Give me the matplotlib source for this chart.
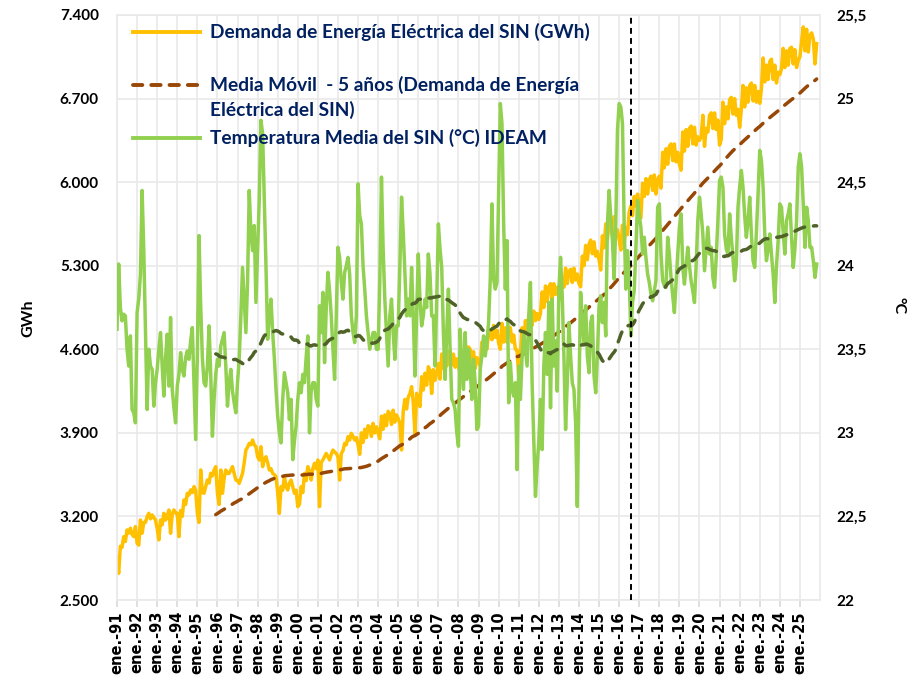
import numpy as np
import pandas as pd
import matplotlib
matplotlib.use("Agg")
import matplotlib.pyplot as plt
from matplotlib.lines import Line2D

# ---------------- data ----------------
inicio = "1991-01"

demanda = [
    2860, 2724, 2950, 2940, 3030, 2990, 3087, 3060, 3101, 3050, 3031, 3115,  # 1991
    2975, 2960, 3170, 3059, 3150, 3150, 3198, 3226, 3180, 3212, 3190, 3170,  # 1992
    3100, 3003, 3170, 3130, 3226, 3170, 3200, 3254, 3059, 3220, 3254, 3230,  # 1993
    3226, 3031, 3250, 3200, 3338, 3300, 3394, 3380, 3422, 3400, 3450, 3420,  # 1994
    3226, 3150, 3589, 3400, 3394, 3450, 3505, 3480, 3561, 3540, 3589, 3617,  # 1995
    3394, 3300, 3589, 3394, 3520, 3589, 3560, 3561, 3590, 3617, 3560, 3505,  # 1996
    3500, 3477, 3520, 3561, 3650, 3756, 3780, 3812, 3800, 3840, 3800, 3784,  # 1997
    3700, 3673, 3784, 3617, 3680, 3700, 3650, 3589, 3600, 3561, 3550, 3533,  # 1998
    3400, 3226, 3450, 3420, 3533, 3450, 3422, 3480, 3505, 3450, 3394, 3420,  # 1999
    3282, 3300, 3450, 3400, 3561, 3500, 3617, 3580, 3505, 3600, 3645, 3600,  # 2000
    3673, 3282, 3650, 3673, 3700, 3728, 3700, 3673, 3720, 3756, 3740, 3728,  # 2001
    3700, 3505, 3728, 3750, 3812, 3800, 3868, 3840, 3896, 3870, 3840, 3860,  # 2002
    3800, 3720, 3900, 3820, 3930, 3860, 3960, 3950, 3870, 3980, 3900, 3950,  # 2003
    3900, 3850, 4040, 3930, 4050, 3960, 4080, 4060, 3970, 4090, 3990, 4050,  # 2004
    4020, 3980, 3757, 4080, 4180, 4100, 4200, 4230, 4287, 4150, 3896, 4231,  # 2005
    4180, 4120, 4370, 4259, 4400, 4300, 4454, 4420, 4230, 4430, 4340, 4400,  # 2006
    4480, 4350, 4560, 4440, 4570, 4460, 4580, 4590, 4470, 4560, 4450, 4520,  # 2007
    4450, 4400, 4560, 4420, 4590, 4470, 4620, 4600, 4480, 4580, 4440, 4530,  # 2008
    4500, 4460, 4660, 4560, 4700, 4600, 4740, 4760, 4680, 4800, 4700, 4760,  # 2009
    4650, 4600, 4817, 4660, 4780, 4660, 4790, 4780, 4660, 4720, 4600, 4594,  # 2010
    4371, 4560, 4780, 4650, 4840, 4760, 4880, 4900, 4800, 4920, 4840, 4900,  # 2011
    4850, 4900, 5080, 4950, 5130, 5000, 5120, 5150, 5020, 5150, 5060, 5120,  # 2012
    5050, 5020, 5200, 5120, 5280, 5150, 5250, 5270, 5160, 5280, 5180, 5230,  # 2013
    5150, 5124, 5380, 5300, 5470, 5350, 5480, 5515, 5400, 5500, 5380, 5420,  # 2014
    5350, 5264, 5550, 5450, 5650, 5520, 5660, 5683, 5560, 5711, 5580, 5600,  # 2015
    5520, 5431, 5640, 5487, 5620, 5560, 5750, 5800, 5720, 5880, 5800, 5900,  # 2016
    5800, 5700, 5990, 5880, 6030, 5900, 6020, 6050, 5930, 6060, 5900, 6020,  # 2017
    6050, 5950, 6250, 6120, 6280, 6150, 6300, 6320, 6180, 6320, 6170, 6250,  # 2018
    6150, 6100, 6420, 6260, 6440, 6300, 6450, 6470, 6320, 6460, 6310, 6380,  # 2019
    6350, 6380, 6560, 6300, 6450, 6420, 6560, 6580, 6450, 6580, 6440, 6520,  # 2020
    6310, 6360, 6670, 6490, 6630, 6530, 6690, 6710, 6570, 6700, 6560, 6610,  # 2021
    6460, 6610, 6810, 6630, 6790, 6670, 6810, 6830, 6680, 6810, 6670, 6760,  # 2022
    6660, 6780, 7040, 6840, 6980, 6860, 7010, 7030, 6860, 6980, 6830, 6920,  # 2023
    6900, 6950, 7120, 6960, 7100, 6980, 7120, 7130, 6990, 7110, 6960, 7020,  # 2024
    7050, 7180, 7300, 7100, 7280, 7090, 7230, 7250, 7200, 6990, 7160,        # 2025
]

temperatura = [
    23.62, 24.01, 23.75, 23.67, 23.71, 23.70, 23.50, 23.40, 23.58, 23.14, 23.12, 23.06,  # 1991
    23.72, 23.80, 23.95, 24.45, 24.09, 23.60, 23.14, 23.50, 23.40, 23.38, 23.16, 23.30,  # 1992
    23.38, 23.50, 23.60, 23.40, 23.22, 23.45, 23.59, 23.28, 23.69, 23.26, 23.15, 23.06,  # 1993
    23.28, 23.35, 23.48, 23.38, 23.34, 23.45, 23.49, 23.44, 23.55, 23.63, 23.30, 22.96,  # 1994
    23.46, 24.18, 23.76, 23.45, 23.30, 23.28, 23.40, 23.64, 23.35, 22.98, 23.20, 23.35,  # 1995
    23.44, 23.40, 23.52, 23.56, 23.60, 23.40, 23.16, 23.30, 23.38, 23.25, 23.18, 23.12,  # 1996
    23.30, 23.44, 23.70, 23.99, 23.80, 23.60, 23.90, 24.45, 24.20, 24.09, 24.24, 23.78,  # 1997
    24.10, 24.40, 24.87, 24.79, 24.40, 24.00, 23.56, 23.70, 23.80, 23.60, 23.45, 23.26,  # 1998
    23.10, 23.00, 22.94, 23.20, 23.36, 23.30, 23.24, 23.08, 23.20, 22.84, 22.95, 23.04,  # 1999
    23.20, 23.30, 23.24, 23.35, 23.30, 23.45, 23.58, 23.00, 23.25, 23.30, 23.30, 23.20,  # 2000
    23.16, 23.76, 23.60, 23.84, 23.42, 23.74, 23.96, 23.85, 23.70, 23.50, 23.32, 23.70,  # 2001
    24.11, 24.05, 23.90, 23.80, 23.96, 24.00, 24.05, 23.95, 23.70, 23.60, 23.54, 23.70,  # 2002
    24.49, 24.30, 24.25, 24.00, 23.86, 23.70, 23.60, 23.50, 23.55, 23.60, 23.60, 23.50,  # 2003
    23.50, 23.90, 24.53, 24.10, 23.80, 23.60, 23.40, 23.70, 23.80, 23.60, 23.44, 23.64,  # 2004
    23.64, 24.00, 24.41, 24.20, 23.96, 23.70, 23.80, 23.70, 23.99, 23.70, 23.34, 23.70,  # 2005
    24.07, 23.80, 23.64, 23.70, 23.80, 23.75, 24.07, 23.95, 23.70, 23.70, 23.40, 23.80,  # 2006
    24.25, 24.10, 23.99, 23.60, 23.32, 23.60, 23.86, 23.50, 23.20, 23.18, 23.14, 23.00,  # 2007
    22.92, 23.62, 23.40, 23.26, 23.60, 23.32, 23.50, 23.38, 23.20, 23.44, 23.30, 23.02,  # 2008
    23.04, 23.38, 23.46, 23.58, 23.46, 23.54, 23.66, 23.92, 24.37, 23.92, 23.86, 23.90,  # 2009
    24.45, 24.97, 24.85, 24.25, 23.86, 24.15, 23.18, 23.42, 23.26, 23.22, 23.30, 22.78,  # 2010
    23.40, 23.20, 23.45, 23.60, 23.50, 23.40, 23.70, 23.90, 23.30, 22.95, 22.62, 22.80,  # 2011
    22.95, 23.20, 22.90, 23.40, 23.60, 23.35, 23.78, 23.15, 23.80, 23.40, 23.55, 23.25,  # 2012
    23.86, 24.05, 23.82, 23.46, 23.02, 23.30, 23.66, 23.46, 23.30, 23.26, 23.06, 22.56,  # 2013
    23.26, 23.84, 23.66, 23.54, 23.76, 23.46, 23.36, 23.66, 23.70, 23.34, 23.24, 23.46,  # 2014
    23.76, 23.82, 23.66, 23.78, 23.58, 24.25, 24.45, 24.29, 24.15, 23.92, 24.25, 24.81,  # 2015
    24.97, 24.95, 24.85, 24.25, 23.86, 24.09, 23.94, 23.58, 23.78, 23.85, 24.10, 24.39,  # 2016
    24.30, 24.23, 24.07, 24.17, 24.05, 23.95, 23.90, 23.83, 23.79, 23.85, 23.91, 24.35,  # 2017
    24.37, 24.07, 23.91, 23.88, 23.87, 24.17, 24.07, 23.93, 23.82, 23.72, 23.90, 24.07,  # 2018
    24.23, 24.31, 23.99, 23.89, 24.00, 24.11, 24.00, 23.91, 23.85, 23.78, 24.00, 24.27,  # 2019
    24.41, 24.31, 24.19, 23.97, 24.10, 24.23, 24.07, 24.11, 23.93, 23.87, 24.05, 24.27,  # 2020
    24.51, 24.53, 24.47, 24.19, 24.10, 24.07, 24.31, 24.17, 24.05, 23.91, 24.01, 24.35,  # 2021
    24.47, 24.57, 24.47, 24.30, 24.17, 24.27, 24.41, 24.19, 24.03, 23.99, 24.20, 24.43,  # 2022
    24.69, 24.63, 24.47, 24.19, 24.03, 24.10, 24.19, 24.07, 23.95, 23.78, 24.00, 24.15,  # 2023
    24.37, 24.35, 24.20, 24.07, 24.27, 24.31, 24.37, 24.17, 23.99, 24.10, 24.27, 24.59,  # 2024
    24.67, 24.59, 24.37, 24.11, 24.35, 24.27, 24.11, 24.11, 24.03, 23.93, 24.01,         # 2025
]

ventana = 60            # media movil 5 anos (meses)
corte = "2016-08"       # linea vertical punteada

etiquetas = [
    "Demanda de Energía Eléctrica del SIN (GWh)",
    "Media Móvil  - 5 años (Demanda de Energía\nEléctrica del SIN)",
    "Temperatura Media del SIN (°C) IDEAM",
]
eje_izq = "GWh"
eje_der = "°C"
ticks_dem = [2500, 3200, 3900, 4600, 5300, 6000, 6700, 7400]
ticks_tmp = [22, 22.5, 23, 23.5, 24, 24.5, 25, 25.5]

# ---------------- derived ----------------
n = len(demanda)
fechas = pd.period_range(inicio, periods=n, freq="M")
x = np.arange(n)
dem_ma = pd.Series(demanda).rolling(ventana).mean()
tmp_ma = pd.Series(temperatura).rolling(ventana).mean()
x_corte = list(fechas.strftime("%Y-%m")).index(corte)

C_DEM = "#FFC000"
C_DEM_MA = "#974706"
C_TMP = "#92D050"
C_TMP_MA = "#4F6228"
C_GRID = "#E9E9E9"
C_LEG = "#002060"

plt.rcParams["font.family"] = ["Lato", "DejaVu Sans"]

W, H = 916, 683
L, R, T, B = 117, 820, 15, 600
fig = plt.figure(figsize=(W / 100, H / 100), dpi=100)
ax = fig.add_axes([L / W, 1 - B / H, (R - L) / W, (B - T) / H])
ax2 = ax.twinx()

ax.plot(x, demanda, color=C_DEM, lw=2.5, zorder=2, solid_joinstyle="round")
ax.plot(x, dem_ma, color=C_DEM_MA, lw=2.5, dashes=(3.0, 2.6),
        dash_capstyle="round", zorder=3)
ax2.plot(x, temperatura, color=C_TMP, lw=2.5, zorder=2, solid_joinstyle="round")
ax2.plot(x, tmp_ma, color=C_TMP_MA, lw=2.5, dashes=(3.0, 2.6),
         dash_capstyle="round", zorder=3)
ax2.axvline(x_corte, color="black", lw=1.4, dashes=(3.0, 2.2), zorder=6)

ax.set_xlim(0, 420)
ax.set_ylim(ticks_dem[0], ticks_dem[-1])
ax2.set_ylim(ticks_tmp[0], ticks_tmp[-1])

ax.set_yticks(ticks_dem)
ax.set_yticklabels([f"{v:,.0f}".replace(",", ".") for v in ticks_dem],
                   fontsize=11, fontweight="bold")
ax2.set_yticks(ticks_tmp)
ax2.set_yticklabels([(f"{v:g}").replace(".", ",") for v in ticks_tmp],
                    fontsize=11, fontweight="bold")

pos = [i for i, p in enumerate(fechas) if p.month == 1]
ax.set_xticks(pos)
ax.set_xticklabels([f"ene.-{p.year % 100:02d}" for p in fechas if p.month == 1],
                   rotation=90, fontsize=10.5, fontweight="bold",
                   family="DejaVu Sans")

ax.grid(True, color=C_GRID, lw=1.2)
ax.set_axisbelow(True)
for s in ax.spines.values():
    s.set_color(C_GRID)
    s.set_linewidth(1.2)
for s in ax2.spines.values():
    s.set_visible(False)

ax.tick_params(axis="x", length=5, width=1.2, color="#D9D9D9", pad=3)
ax.tick_params(axis="y", length=0, pad=13)
ax2.tick_params(axis="y", length=0, pad=12)

ax.set_ylabel(eje_izq, fontsize=11.5, fontweight="bold")
ax.yaxis.set_label_coords(-0.116, 0.482)
ax2.set_ylabel(eje_der, fontsize=11.5, fontweight="bold", rotation=270,
               va="center", ha="center")
ax2.yaxis.set_label_coords(1.111, 0.504)

# ---------------- legend (manual, Excel-like) ----------------
estilos = [
    dict(color=C_DEM, lw=2.8),
    dict(color=C_DEM_MA, lw=2.8, dashes=(2.4, 2.3), dash_capstyle="round"),
    dict(color=C_TMP, lw=2.8),
]
filas = [[32], [85, 110], [138]]
for lab, st, ys in zip(etiquetas, estilos, filas):
    yf = 1 - ys[0] / H
    fig.add_artist(Line2D([133 / W, 200 / W], [yf, yf],
                          transform=fig.transFigure, **st))
    for linea, yy in zip(lab.split("\n"), ys):
        fig.text(210 / W, 1 - yy / H, linea, fontsize=13.8, fontweight="bold",
                 color=C_LEG, ha="left", va="center")

fig.savefig("out.png", dpi=100)
